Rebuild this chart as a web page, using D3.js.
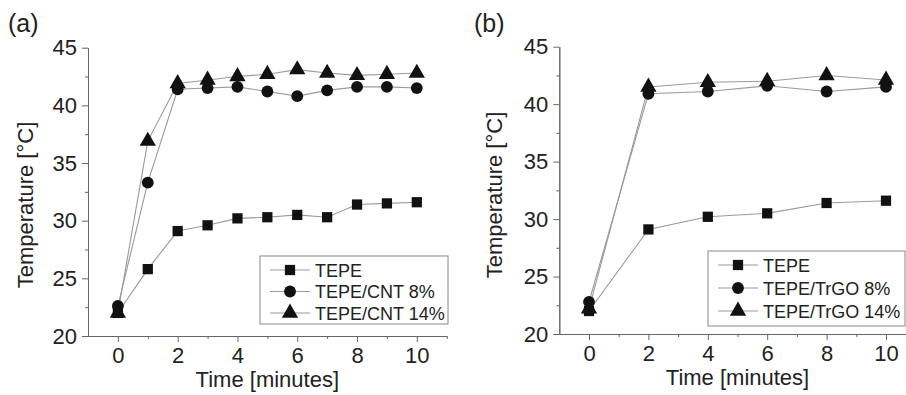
<!DOCTYPE html>
<html>
<head>
<meta charset="utf-8">
<script src="https://cdn.jsdelivr.net/npm/d3@7"></script>
<style>
  body { margin: 0; background: #fff; }
  svg text { font-family: "Liberation Sans", Arial, sans-serif; fill: #222; }
</style>
</head>
<body>
<svg id="chart" width="906" height="395"></svg>
<script>
// data
var timeA = [0, 1, 2, 3, 4, 5, 6, 7, 8, 9, 10];
var tepeA = [22.0, 25.8, 29.1, 29.6, 30.2, 30.3, 30.5, 30.3, 31.4, 31.5, 31.6];
var cnt8 = [22.6, 33.3, 41.4, 41.5, 41.6, 41.2, 40.8, 41.3, 41.6, 41.6, 41.5];
var cnt14 = [22.0, 36.9, 41.9, 42.2, 42.5, 42.7, 43.1, 42.8, 42.6, 42.7, 42.8];

var timeB = [0, 2, 4, 6, 8, 10];
var tepeB = [22.0, 29.1, 30.2, 30.5, 31.4, 31.6];
var trgo8 = [22.8, 40.9, 41.1, 41.6, 41.1, 41.5];
var trgo14 = [22.2, 41.5, 41.9, 42.0, 42.5, 42.1];

var namesA = ['TEPE', 'TEPE/CNT 8%', 'TEPE/CNT 14%'];
var namesB = ['TEPE', 'TEPE/TrGO 8%', 'TEPE/TrGO 14%'];
var panelLabels = ['(a)', '(b)'];

var xTicks = [0, 2, 4, 6, 8, 10];
var xMinor = [1, 3, 5, 7, 9, 11];
var yTicks = [20, 25, 30, 35, 40, 45];
var yMinor = [22.5, 27.5, 32.5, 37.5, 42.5];

var xTitle = 'Time [minutes]';
var yTitle = 'Temperature [°C]';

var svg = d3.select('#chart');

var shapes = [d3.symbolSquare, d3.symbolCircle, d3.symbolTriangle];
var sizes = [105, 110, 115];

function drawPanel(opt){
    var x = d3.scaleLinear().domain([-1, 11]).range([opt.left, opt.right]);
    var y = d3.scaleLinear().domain([20, 45]).range([opt.bottom, opt.top]);

    var g = svg.append('g');

    // axes
    g.append('g').attr('transform', 'translate(0,' + opt.bottom + ')')
        .call(d3.axisBottom(x).tickValues(xTicks).tickSize(6).tickSizeOuter(0).tickPadding(5));
    g.append('g').attr('transform', 'translate(0,' + opt.bottom + ')')
        .call(d3.axisBottom(x).tickValues(xMinor).tickSize(3).tickSizeOuter(0).tickFormat(''));
    g.append('g').attr('transform', 'translate(' + opt.left + ',0)')
        .call(d3.axisLeft(y).tickValues(yTicks).tickSize(6).tickSizeOuter(0).tickPadding(5));
    g.append('g').attr('transform', 'translate(' + opt.left + ',0)')
        .call(d3.axisLeft(y).tickValues(yMinor).tickSize(3).tickSizeOuter(0).tickFormat(''));

    g.selectAll('.domain, .tick line').attr('stroke', '#666').attr('stroke-width', 1);
    g.selectAll('.tick text').attr('font-size', 22).attr('fill', '#222')
        .attr('font-family', '"Liberation Sans", Arial, sans-serif');

    // titles
    g.append('text')
        .attr('x', (x(0) + x(10)) / 2).attr('y', opt.bottom + 51)
        .attr('text-anchor', 'middle').attr('font-size', 22)
        .text(xTitle);
    g.append('text')
        .attr('transform', 'translate(' + opt.yTitleX + ',' + opt.yTitleY + ') rotate(-90)')
        .attr('text-anchor', 'middle').attr('font-size', 22)
        .text(yTitle);
    g.append('text')
        .attr('x', opt.labelX).attr('y', 32)
        .attr('font-size', 25)
        .text(opt.label);

    var line = d3.line()
        .x(function(d){ return x(d[0]); })
        .y(function(d){ return y(d[1]); });

    // draw lines first, then markers on top
    opt.series.forEach(function(s, i){
        var pts = opt.time.map(function(t, j){ return [t, s[j]]; });
        g.append('path')
            .datum(pts)
            .attr('d', line)
            .attr('fill', 'none')
            .attr('stroke', '#9a9a9a')
            .attr('stroke-width', 1.1);
    });
    opt.series.forEach(function(s, i){
        var pts = opt.time.map(function(t, j){ return [t, s[j]]; });
        g.selectAll('.m' + i)
            .data(pts)
            .enter()
            .append('path')
            .attr('transform', function(d){ return 'translate(' + x(d[0]) + ',' + y(d[1]) + ')'; })
            .attr('d', d3.symbol().type(shapes[i]).size(sizes[i]))
            .attr('fill', '#111');
    });

    // legend
    var lg = g.append('g');
    lg.append('rect')
        .attr('x', opt.legend.x).attr('y', opt.legend.y)
        .attr('width', opt.legend.w).attr('height', opt.legend.h)
        .attr('fill', '#fff').attr('stroke', '#888').attr('stroke-width', 1);
    opt.names.forEach(function(n, i){
        var cy = opt.legend.y + 14 + i * opt.legend.step;
        var lx = opt.legend.x + 10;
        lg.append('line')
            .attr('x1', lx).attr('x2', lx + 40)
            .attr('y1', cy).attr('y2', cy)
            .attr('stroke', '#9a9a9a').attr('stroke-width', 1.1);
        lg.append('path')
            .attr('transform', 'translate(' + (lx + 20) + ',' + cy + ')')
            .attr('d', d3.symbol().type(shapes[i]).size(sizes[i]))
            .attr('fill', '#111');
        lg.append('text')
            .attr('x', lx + 45).attr('y', cy + 6.5)
            .attr('font-size', 18)
            .text(n);
    });
}

drawPanel({
    left: 88, right: 446.7, top: 47.7, bottom: 336,
    time: timeA, series: [tepeA, cnt8, cnt14], names: namesA,
    label: panelLabels[0], labelX: 8, yTitleX: 33, yTitleY: 205,
    legend: { x: 260, y: 256, w: 188, h: 68, step: 21.5 }
});

drawPanel({
    left: 559.3, right: 915.7, top: 46.7, bottom: 334,
    time: timeB, series: [tepeB, trgo8, trgo14], names: namesB,
    label: panelLabels[1], labelX: 474, yTitleX: 502, yTitleY: 195,
    legend: { x: 708, y: 251, w: 197, h: 75, step: 23 }
});
</script>
</body>
</html>
